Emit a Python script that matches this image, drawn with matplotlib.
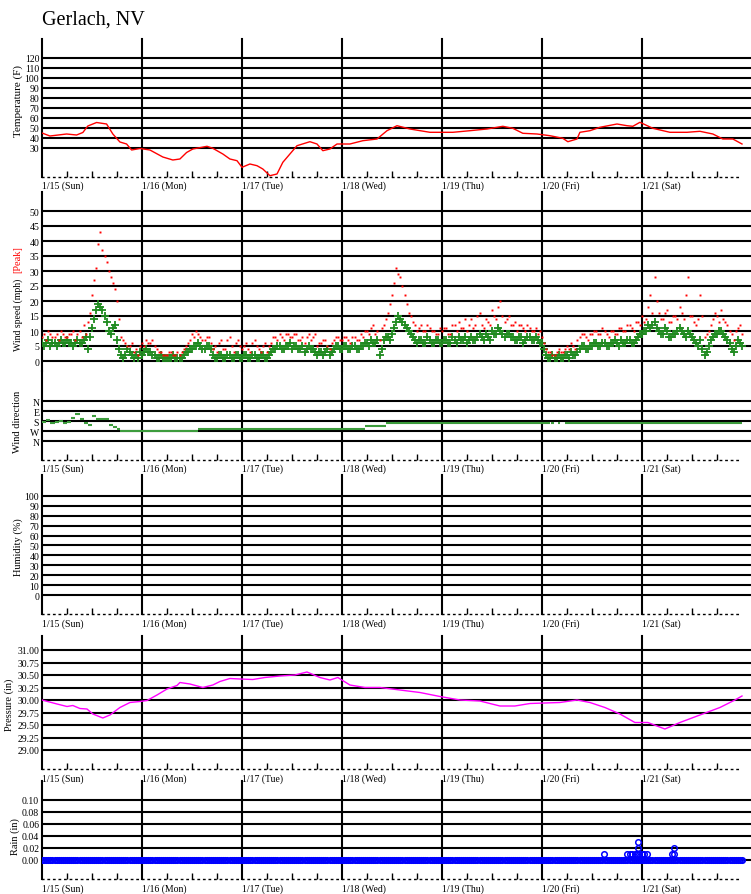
import numpy as np
import matplotlib
matplotlib.use("Agg")
import matplotlib.pyplot as plt

plt.rcParams['font.family'] = ['Liberation Serif', 'DejaVu Serif']

# dias del eje x (horas desde 1/15 00:00)
day_labels = ['1/15 (Sun)', '1/16 (Mon)', '1/17 (Tue)', '1/18 (Wed)',
              '1/19 (Thu)', '1/20 (Fri)', '1/21 (Sat)']

# temperatura (F)
temp_hours = [0, 1.9, 5.9, 8.3, 9.8, 11.0, 13.1, 15.5, 17.0, 18.7, 20.3, 21.5, 23.5, 25.9, 29.0,
              31.4, 33.1, 34.7, 36.2, 39.6, 41.0, 43.4, 45.1, 46.8, 48.0, 49.9, 51.6, 53.0, 54.7, 56.4,
              57.8, 59.5, 61.2, 64.3, 66.0, 67.4, 69.1, 70.8, 73.9, 77.0, 80.4, 82.8, 85.2, 88.3, 93.1,
              98.6, 102.7, 106.8, 110.6, 113.0, 115.4, 118.8, 121.9, 125.0, 126.2, 128.4, 129.1, 131.5,
              133.9, 138.0, 140.4, 141.8, 143.5, 146.6, 150.7, 154.8, 157.9, 161.0, 163.4, 165.8, 168.0]
temps = [45, 42, 44, 43, 45.5, 52, 55.5, 54, 44, 36, 34, 28, 29.5, 28, 21,
         18, 19, 25.5, 29, 31.7, 29.7, 24, 19, 17.3, 10.7, 14, 12.3, 9, 2.3, 4,
         15.7, 24, 32.3, 36.3, 34, 27.3, 29, 34, 34, 37.3, 39, 47.3, 52.3, 49, 45.7,
         45.7, 47.3, 49, 51.7, 49.7, 44.7, 44, 42.3, 39.7, 36.3, 39, 45.7, 47.3,
         50.7, 54, 52.3, 51.7, 55.7, 49.7, 45.7, 45.7, 46.7, 44, 39, 39, 34]

# viento: lecturas a la hora en punto (a) y a la media hora (b)
wind_hours_a = np.arange(169)
wind_hours_b = np.arange(168) + 0.5
wind_avg_a = [6, 6, 5, 6, 6, 6, 7, 6, 6, 6, 7, 4,
              11, 17, 18, 15, 10, 11, 7, 2, 2, 3, 1, 1,
              2, 4, 3, 2, 1, 1, 1, 1, 1, 1, 2, 3,
              4, 5, 5, 4, 5, 2, 1, 2, 1, 2, 1, 2,
              1, 2, 1, 2, 1, 2, 1, 3, 4, 5, 4, 5,
              4, 5, 4, 3, 5, 4, 2, 3, 3, 2, 4, 5,
              4, 5, 4, 5, 4, 5, 6, 7, 6, 2, 7, 8,
              9, 13, 14, 12, 10, 8, 6, 7, 6, 7, 6, 7,
              6, 7, 6, 7, 8, 7, 6, 8, 7, 9, 7, 8,
              10, 9, 10, 8, 9, 8, 7, 8, 7, 8, 7, 7,
              6, 2, 1, 1, 2, 1, 2, 3, 2, 4, 5, 4,
              5, 6, 5, 6, 5, 6, 6, 7, 6, 7, 6, 8,
              9, 10, 11, 13, 10, 9, 10, 8, 9, 11, 9, 10,
              8, 6, 7, 2, 5, 8, 9, 10, 8, 6, 3, 7,
              5]
wind_avg_b = [5, 7, 6, 5, 7, 6, 6, 5, 7, 6, 8, 8,
              14, 19, 17, 13, 9, 12, 4, 1, 4, 2, 2, 3,
              3, 3, 2, 1, 2, 1, 1, 2, 1, 1, 3, 4,
              5, 6, 4, 5, 4, 1, 2, 1, 2, 1, 2, 1,
              2, 1, 2, 1, 2, 1, 2, 4, 5, 4, 5, 6,
              5, 4, 5, 4, 4, 3, 3, 2, 4, 3, 5, 4,
              5, 4, 5, 4, 5, 6, 5, 6, 7, 4, 8, 7,
              11, 15, 13, 11, 9, 7, 7, 6, 8, 6, 7, 6,
              7, 6, 8, 6, 7, 8, 7, 7, 8, 8, 9, 7,
              9, 11, 9, 9, 8, 7, 8, 6, 8, 7, 8, 6,
              4, 1, 2, 1, 1, 2, 1, 2, 3, 5, 4, 5,
              6, 5, 6, 5, 6, 7, 5, 6, 7, 6, 7, 9,
              10, 12, 12, 11, 9, 11, 8, 9, 10, 10, 8, 9,
              7, 5, 4, 3, 7, 9, 10, 9, 7, 4, 5, 6]
wind_peak_a = [8, 7, 9, 8, 7, 9, 8, 9, 7, 10, 12, 13,
               22, 31, 43, 35, 30, 26, 20, 8, 6, 5, 3, 2,
               6, 7, 6, 5, 3, 2, 2, 3, 2, 2, 4, 6,
               9, 10, 8, 7, 8, 4, 3, 7, 4, 8, 3, 7,
               4, 6, 3, 7, 4, 5, 3, 6, 8, 9, 7, 9,
               8, 9, 7, 6, 9, 8, 5, 6, 7, 4, 7, 8,
               7, 8, 6, 8, 7, 8, 10, 11, 9, 7, 12, 16,
               22, 31, 28, 22, 16, 13, 10, 12, 10, 11, 10, 9,
               10, 11, 9, 12, 13, 11, 10, 14, 12, 16, 11, 13,
               17, 14, 20, 13, 15, 12, 10, 12, 10, 11, 10, 9,
               8, 4, 3, 2, 4, 3, 5, 6, 4, 8, 9, 7,
               9, 10, 9, 10, 8, 10, 9, 11, 10, 12, 10, 13,
               15, 14, 22, 28, 16, 14, 17, 13, 15, 18, 14, 28,
               15, 12, 22, 8, 10, 14, 15, 17, 13, 10, 7, 11,
               9]
wind_peak_b = [9, 10, 8, 9, 10, 8, 9, 10, 9, 8, 9, 16,
               27, 39, 37, 33, 28, 24, 14, 7, 5, 6, 4, 5,
               5, 6, 7, 4, 3, 2, 3, 2, 3, 3, 5, 7,
               8, 9, 7, 8, 6, 5, 6, 4, 7, 5, 6, 5,
               5, 4, 6, 5, 3, 6, 5, 8, 7, 8, 9, 8,
               9, 7, 8, 8, 7, 9, 6, 7, 5, 6, 8, 7,
               8, 7, 8, 7, 9, 10, 9, 12, 10, 11, 14, 19,
               26, 29, 25, 19, 15, 12, 11, 10, 12, 10, 9, 11,
               11, 9, 12, 10, 11, 14, 12, 11, 15, 12, 14, 12,
               15, 18, 15, 14, 12, 13, 12, 11, 12, 10, 11, 10,
               6, 3, 2, 3, 3, 4, 4, 5, 7, 9, 8, 9,
               10, 9, 11, 9, 10, 9, 11, 10, 12, 11, 13, 12,
               13, 18, 16, 20, 14, 16, 13, 15, 14, 16, 22, 15,
               13, 14, 15, 9, 12, 16, 13, 14, 12, 9, 10, 12]

# direccion del viento (grados), tramos constantes
dir_start = [0, 1, 2, 3, 4, 5, 6, 7, 8, 9, 10, 11, 12, 13, 14, 15, 16, 17, 18,
             18.7, 37.5, 77.5, 82.5, 122.2, 123.8, 125.5]
dir_end = [1, 2, 3, 4, 5, 6, 7, 8, 9, 10, 11, 12, 13, 14, 15, 16, 17, 18, 18.7,
           37.5, 77.5, 82.5, 122, 122.8, 124.3, 168]
dir_deg = [190, 175, 195, 190, 180, 195, 190, 150, 120, 160, 195, 220, 135, 160, 165, 160, 220, 230, 250,
           268, 252, 228, 201, 201, 201, 201]

# presion (in)
pres_hours = [0, 3.6, 6.0, 7.4, 9.1, 10.8, 12.2, 14.6, 16.3, 18.7, 21.1, 23.5, 25.2, 27.6, 30.0,
              32.4, 33.1, 35.5, 38.6, 41.0, 42.7, 45.1, 47.5, 50.6, 53.5, 57.1, 60.7, 63.6, 66.7,
              69.1, 71.0, 73.9, 77.5, 81.1, 85.9, 90.7, 95.5, 100.3, 105.1, 109.9, 113.5, 117.1,
              124.3, 128.4, 131.5, 135.1, 138.7, 142.3, 145.4, 149.5, 153.1, 157.9, 162.7, 166.3, 168.0]
pressure = [30.00, 29.92, 29.87, 29.89, 29.83, 29.82, 29.72, 29.64, 29.70, 29.85, 29.95, 29.97, 29.99,
            30.10, 30.22, 30.29, 30.35, 30.32, 30.25, 30.30, 30.37, 30.43, 30.42, 30.41, 30.45, 30.48,
            30.50, 30.56, 30.45, 30.40, 30.45, 30.30, 30.25, 30.25, 30.20, 30.15, 30.07, 30.00, 29.98,
            29.88, 29.88, 29.93, 29.95, 30.00, 29.95, 29.85, 29.72, 29.55, 29.55, 29.42, 29.55, 29.70,
            29.85, 30.00, 30.08]

# lluvia (in): lecturas secas y lecturas con lluvia
dry_hours = np.arange(0, 168.5, 0.5)
wet_hours = [134.9, 140.4, 141.0, 141.6, 142.2, 142.8, 143.3, 143.9, 144.5, 145.1,
             143.0, 143.0, 151.2, 151.6, 151.7]
wet_in = [0.01, 0.01, 0.01, 0.01, 0.01, 0.01, 0.01, 0.01, 0.01, 0.01,
          0.02, 0.03, 0.01, 0.01, 0.02]

W_PX, H_PX = 751, 895
LEFT, RIGHT = 42, 751
XMAX = (RIGHT - LEFT) * 0.24
DATA_END = 168
SMALL = 7

fig = plt.figure(figsize=(W_PX / 100, H_PX / 100), dpi=100)


def panel(top, bottom, ylim, yticks, ylabels, xlabels=True):
    ax = fig.add_axes([LEFT / W_PX, 1 - bottom / H_PX, (RIGHT - LEFT) / W_PX, (bottom - top) / H_PX])
    ax.set_xlim(0, XMAX)
    ax.set_ylim(*ylim)
    ax.patch.set_alpha(0)
    for s in ['top', 'right', 'left']:
        ax.spines[s].set_visible(False)
    for y in yticks:
        ax.axhline(y, color='black', lw=1.5, zorder=1)
    for d in range(len(day_labels)):
        ax.axvline(d * 24, color='black', lw=1.5, zorder=1, clip_on=False)
    ax.set_yticks(yticks)
    ax.set_yticklabels(ylabels)
    ax.tick_params(axis='y', length=0, pad=2, labelsize=SMALL)
    if xlabels:
        ax.spines['bottom'].set_linestyle((0, (1, 3)))
        ax.spines['bottom'].set_linewidth(1)
        ax.spines['bottom'].set_bounds(0, DATA_END)
        ax.set_xticks([d * 24 for d in range(len(day_labels))])
        ax.set_xticklabels(day_labels, ha='left')
        ax.set_xticks([h for h in range(6, 166, 6) if h % 24], minor=True)
        ax.tick_params(axis='x', which='major', length=0, pad=3, labelsize=SMALL)
        ax.tick_params(axis='x', which='minor', direction='in', length=4, width=1)
    else:
        ax.spines['bottom'].set_visible(False)
        ax.set_xticks([])
    return ax


def ylabel(x, y, text, color='black', size=7.5):
    fig.text(x / W_PX, 1 - y / H_PX, text, rotation=90, ha='center', va='center',
             fontsize=size, color=color)


fig.text(LEFT / W_PX, 1 - 20 / H_PX, 'Gerlach, NV', fontsize=14.5, va='center')

# temperatura
t_ticks = list(range(30, 130, 10))
ax = panel(40, 177.5, (1.5, 139), t_ticks, [str(t) for t in t_ticks])
ax.plot(temp_hours, temps, color='red', lw=1, zorder=3)
ylabel(18, 101, 'Temperature (F)', size=8)

# velocidad del viento
w_ticks = list(range(0, 55, 5))
ax = panel(193, 372, (-10 / 3, 169 / 3), w_ticks, [str(w) for w in w_ticks], xlabels=False)
for hrs, vals in [(wind_hours_a, wind_avg_a), (wind_hours_b, wind_avg_b)]:
    ax.plot(hrs, vals, '+', color='#1f8a1f', ms=5.5, mew=1.3, zorder=3)
for hrs, vals in [(wind_hours_a, wind_peak_a), (wind_hours_b, wind_peak_b)]:
    ax.plot(hrs, vals, 's', color='red', ms=1.4, mew=0, zorder=4)
ylabel(18, 315, 'Wind speed (mph)', size=7)
ylabel(18, 260, '[Peak]', color='red', size=7.5)

# direccion del viento
ax = panel(372, 460.5, (526.5, -270), [0, 90, 180, 270, 360], ['N', 'E', 'S', 'W', 'N'])
ax.hlines(dir_deg, dir_start, dir_end, color='#3c9c3c', lw=1.5, zorder=3)
ylabel(18, 422, 'Wind direction')

# humedad
h_ticks = list(range(0, 110, 10))
ax = panel(476, 615, (-19, 121), h_ticks, [str(h) for h in h_ticks])
ylabel(18, 547, 'Humidity (%)')

# presion
p_ticks = [29.00, 29.25, 29.50, 29.75, 30.00, 30.25, 30.50, 30.75, 31.00]
ax = panel(637, 770, (28.62, 31.28), p_ticks, ['%.2f' % p for p in p_ticks])
ax.plot(pres_hours, pressure, color='magenta', lw=1, zorder=3)
ylabel(9, 705, 'Pressure (in)')

# lluvia
r_ticks = [0.0, 0.02, 0.04, 0.06, 0.08, 0.10]
ax = panel(782, 880, (-19 / 600, 79 / 600), r_ticks, ['%.2f' % r for r in r_ticks])
ax.plot(dry_hours, np.zeros(len(dry_hours)), 'o', mfc='none', mec='blue', ms=3.8, mew=1.3, zorder=3)
ax.plot(wet_hours, wet_in, 'o', mfc='none', mec='blue', ms=4, mew=1.1, zorder=3)
ylabel(15, 837, 'Rain (in)')

fig.savefig('out.png', dpi=100)
